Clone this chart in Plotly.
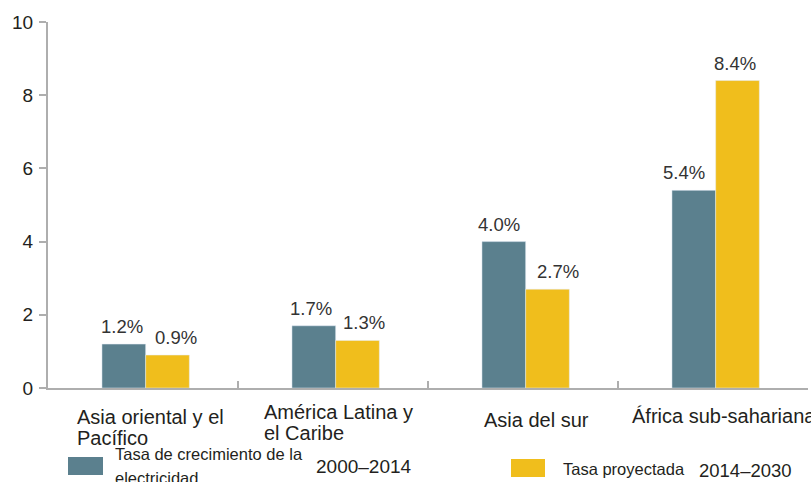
import plotly.graph_objects as go

# Regions and growth rates (% per year)
region_lines = [["Asia oriental y el", "Pacífico"], ["América Latina y", "el Caribe"],
                ["Asia del sur"], ["África sub-sahariana"]]
region_keys = ["EAP", "LAC", "SAS", "SSA"]
rate_2000_2014 = [1.2, 1.7, 4.0, 5.4]
rate_2014_2030 = [0.9, 1.3, 2.7, 8.4]
y_ticks = [0, 2, 4, 6, 8, 10]

legend_hist = ["Tasa de crecimiento de la", "electricidad"]
legend_hist_period = "2000–2014"
legend_proj = "Tasa proyectada"
legend_proj_period = "2014–2030"

BLUE = "#5B808E"
YELLOW = "#F0BE1C"
TEXT = "#231F20"
LABEL = "#333333"
AXIS = "#AEAEAE"
FONT = "Liberation Sans, Arial, sans-serif"

W, H = 811, 482
L, R, T, B = 48, 808, 22, 388  # plot area in pixels
BAR_W = 0.23
OFF_HIST, OFF_PROJ = -0.216, 0.014


def px(x):
    return (x - L) / (R - L)


def py(y):
    return (B - y) / (B - T)


def text_at(x, baseline, text, size):
    """Left-aligned single line of text placed by its baseline (pixels)."""
    return dict(x=px(x), y=py(baseline - 0.88 * size), xref="paper", yref="paper",
                xanchor="left", yanchor="top", text=text, showarrow=False,
                font=dict(size=size, color=TEXT, family=FONT))


fig = go.Figure()
fig.add_trace(go.Bar(x=region_keys, y=rate_2000_2014, marker_color=BLUE,
                     width=BAR_W, offset=OFF_HIST, showlegend=False))
fig.add_trace(go.Bar(x=region_keys, y=rate_2014_2030, marker_color=YELLOW,
                     width=BAR_W, offset=OFF_PROJ, showlegend=False))

annotations = []
# Value labels above each bar
hist_shift = [-2, -3, -5, -10]
proj_shift = [8, 6, 10, -3]
for i, (a, b) in enumerate(zip(rate_2000_2014, rate_2014_2030)):
    for v, off, sh in ((a, OFF_HIST, hist_shift[i]), (b, OFF_PROJ, proj_shift[i])):
        annotations.append(dict(
            x=i + off + BAR_W / 2, y=v, xref="x", yref="y", xanchor="center", yanchor="bottom",
            xshift=sh, yshift=5, text=f"{v:.1f}%", showarrow=False,
            font=dict(size=18.5, color=LABEL, family=FONT),
        ))

# Region labels under the axis, left aligned
label_pos = [(75, 422), (262, 417), (482, 425), (630, 421)]
for lines, (lx, base) in zip(region_lines, label_pos):
    for k, line in enumerate(lines):
        annotations.append(text_at(lx, base + 20.5 * k, line, 20))

# Legend
annotations += [
    text_at(113, 458, legend_hist[0], 16.5),
    text_at(113, 482, legend_hist[1], 16.5),
    text_at(314, 471, legend_hist_period, 19),
    text_at(561, 473, legend_proj, 16.5),
    text_at(697, 474, legend_proj_period, 18.5),
]
shapes = [
    dict(type="rect", xref="paper", yref="paper", x0=px(68), x1=px(103), y0=py(475), y1=py(457),
         fillcolor=BLUE, line_width=0),
    dict(type="rect", xref="paper", yref="paper", x0=px(511), x1=px(545), y0=py(477), y1=py(459),
         fillcolor=YELLOW, line_width=0),
]

fig.update_layout(
    width=W, height=H,
    margin=dict(l=L, r=W - R, t=T, b=H - B),
    plot_bgcolor="white", paper_bgcolor="white",
    barmode="group",
    font=dict(family=FONT, color=TEXT),
    annotations=annotations, shapes=shapes,
    xaxis=dict(
        range=[-0.5, 3.5], showticklabels=False, showgrid=False,
        showline=True, linecolor=AXIS, linewidth=2,
        ticks="inside", tickson="boundaries", ticklen=7, tickcolor=AXIS, tickwidth=1.5,
        zeroline=False,
    ),
    yaxis=dict(
        range=[0, 10], tickvals=y_ticks, showgrid=False, zeroline=False,
        showline=True, linecolor=AXIS, linewidth=2,
        ticks="outside", ticklen=7, tickcolor=AXIS, tickwidth=1.5,
        tickfont=dict(size=19, color=TEXT, family=FONT), ticklabelstandoff=2,
    ),
)

fig.write_html("out.html")
